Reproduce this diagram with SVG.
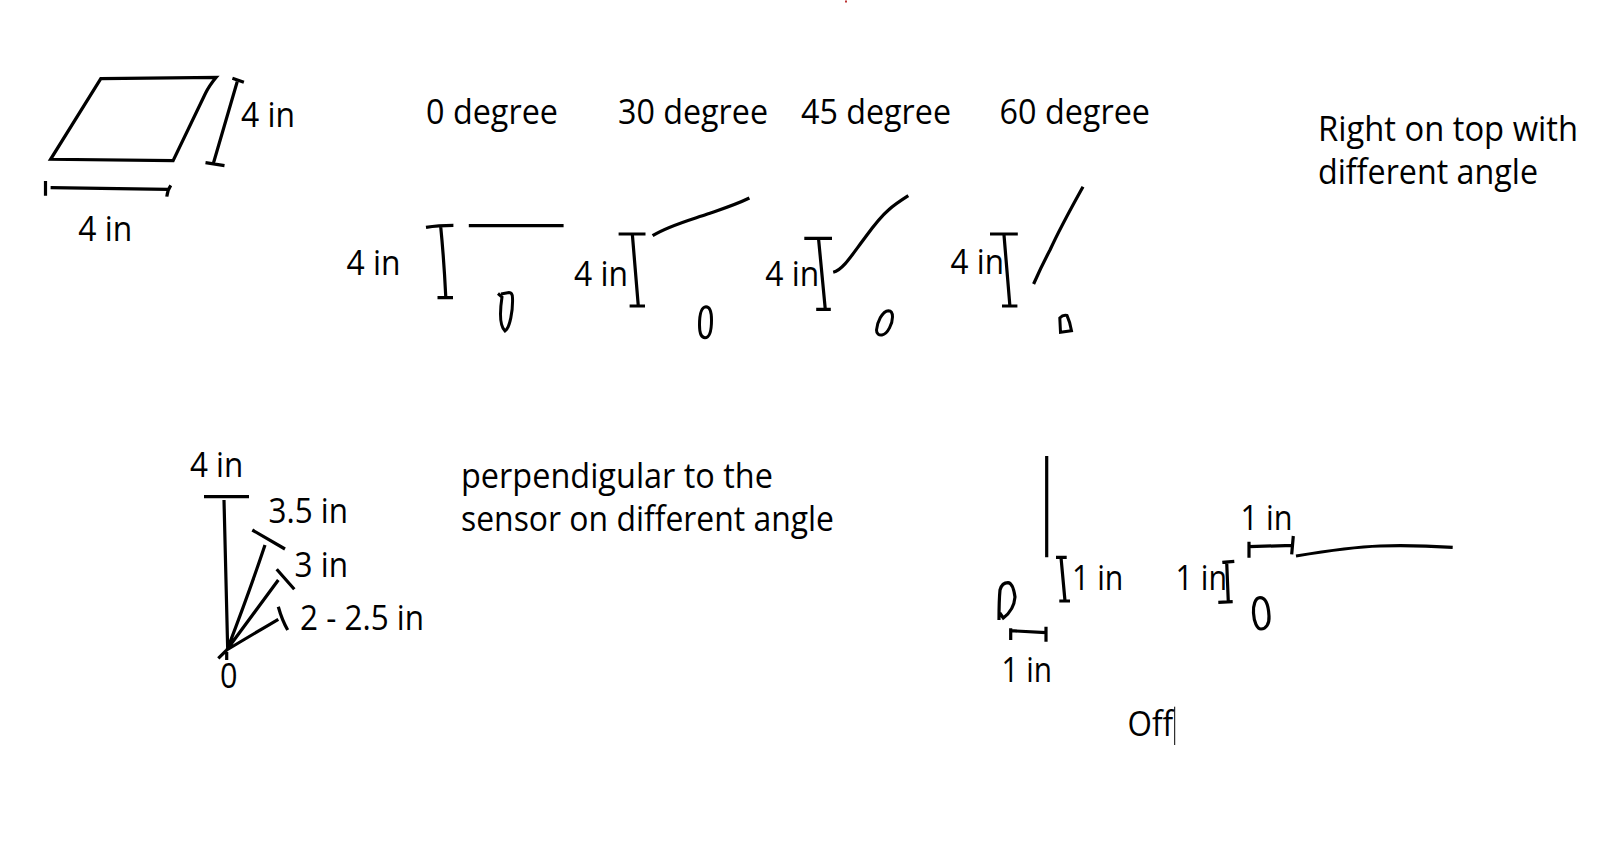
<svg xmlns="http://www.w3.org/2000/svg" width="1618" height="841" viewBox="0 0 1618 841">
<style>
text{font-family:"Open Sans","Noto Sans","Liberation Sans",sans-serif;font-size:34px;fill:#000}
.s{fill:none;stroke:#000;stroke-width:3.2;stroke-linecap:butt;stroke-linejoin:miter}
.t{fill:none;stroke:#000;stroke-width:3}
</style>
<rect width="1618" height="841" fill="#fff"/>
<rect id="speck" x="845" y="0.500" width="2" height="2" fill="#b33"/>
<g id="plate">
<path class="s" d="M100.800,78.700 L216.200,77.300 Q209,86 205.500,93.300 L173.100,160.700 L50.600,159.300 Z"/>
<path class="s" d="M232.400,78.300 L243.900,82.300 M237.200,81.700 L213.400,163.300 M205.500,162.700 L224.500,165.700"/>
<path class="s" d="M45.500,181 V195.700 M50.600,187.700 L168,189.300 M170.800,185.300 Q167.500,190 166.800,196.700"/>
<text x="241" y="126.500" textLength="54" lengthAdjust="spacingAndGlyphs">4 in</text>
<text x="78.300" y="241" textLength="54" lengthAdjust="spacingAndGlyphs">4 in</text>
</g>
<g id="angle-0">
<text x="426" y="123.500" textLength="132" lengthAdjust="spacingAndGlyphs">0 degree</text>
<text x="346.600" y="274.500" textLength="54" lengthAdjust="spacingAndGlyphs">4 in</text>
<path class="s" d="M426,227.300 Q438,225.300 453.400,225.300 M440.700,226.700 Q444,260 445.800,297.300 M437.500,297.700 H453"/>
<path class="s" d="M468.800,225.700 H563.600"/>
<path class="t" d="M498,293.500 L502,297 C500,310 499,325 505,331 C510,328 513,310 512.500,298 C512.500,294 511,292.500 509,292.500 L501,294"/>
</g>
<g id="angle-30">
<text x="618" y="123.500" textLength="150" lengthAdjust="spacingAndGlyphs">30 degree</text>
<text x="574" y="285.500" textLength="54" lengthAdjust="spacingAndGlyphs">4 in</text>
<path class="s" d="M618.600,234 H645.500 M632.400,235 L638.300,306 M629.600,306 H645"/>
<path class="s" d="M652.600,235.700 C668,226 690,220 706.700,214.300 C722,209 735,205 749.400,198"/>
<path class="t" d="M706,306.700 C701,307 699.500,315 699.500,325 C699.500,333 701,337.700 705,337.700 C710,337.700 711.500,330 711.500,320 C711.500,312 710,306.700 706,306.700 Z"/>
</g>
<g id="angle-45">
<text x="801" y="123.500" textLength="150" lengthAdjust="spacingAndGlyphs">45 degree</text>
<text x="765.200" y="285.500" textLength="54" lengthAdjust="spacingAndGlyphs">4 in</text>
<path class="s" d="M833.200,272.300 C842,270 850,258 861,243 C870,231 878,219 888.500,210 C894,205 900,201 908.300,195.700"/>
<path class="s" d="M804.300,238.300 H832 M818.600,239.300 L825.300,309.300 M816.200,309.300 H830.800"/>
<path class="t" d="M888.500,310.700 C882,311 877,323 876.500,330 C876.500,334 879,335.500 882,335 C888,334 892.500,323 892.500,317 C892.500,313 891,310.700 888.500,310.700 Z"/>
</g>
<g id="angle-60">
<text x="999.500" y="123.500" textLength="150.500" lengthAdjust="spacingAndGlyphs">60 degree</text>
<text x="950.600" y="274" textLength="53.400" lengthAdjust="spacingAndGlyphs">4 in</text>
<path class="s" d="M990,234 H1017.800 M1004,235 L1009.900,306 M1002,306 H1017.400"/>
<path class="s" d="M1083,186.700 Q1060,228 1050,250 Q1042,265 1033.600,284"/>
<path class="t" d="M1059.800,318 Q1063,314.500 1067,315.500 Q1070,322 1071.500,330.700 L1060.500,332.300 Z"/>
</g>
<g id="note-top">
<text x="1318" y="140.500" textLength="260" lengthAdjust="spacingAndGlyphs">Right on top with</text>
<text x="1318" y="183.500" textLength="220" lengthAdjust="spacingAndGlyphs">different angle</text>
</g>
<g id="fan">
<text x="190" y="477" textLength="53.300" lengthAdjust="spacingAndGlyphs">4 in</text>
<text x="268.500" y="523" textLength="79.500" lengthAdjust="spacingAndGlyphs">3.5 in</text>
<text x="294.500" y="577" textLength="53.500" lengthAdjust="spacingAndGlyphs">3 in</text>
<text x="300" y="630" textLength="124" lengthAdjust="spacingAndGlyphs">2 - 2.5 in</text>
<text x="220" y="688" textLength="17.500" lengthAdjust="spacingAndGlyphs" style="font-size:35px">0</text>
<path class="s" d="M204,496.700 H249 M224,500 L227.700,650 M252.300,530 L285,549 M265,545 Q250,590 227.700,648.300 M276.700,569.300 L294.300,589.300 M278.300,580 L226.700,650 M278.300,606.700 Q282,620 287.700,630 M278.300,619.300 Q250,636 226.700,650 L218.300,658.300 M226.700,652 V660"/>
</g>
<g id="note-fan">
<text x="461" y="488" textLength="312" lengthAdjust="spacingAndGlyphs">perpendigular to the</text>
<text x="461" y="531" textLength="373" lengthAdjust="spacingAndGlyphs">sensor on different angle</text>
</g>
<g id="off-left">
<path class="s" d="M1046.700,456 V557.300 M1056,557.300 H1066.700 M1061,557.300 L1065,601 M1059.300,601 H1070"/>
<text x="1072" y="590" textLength="51.300" lengthAdjust="spacingAndGlyphs">1 in</text>
<path class="s" d="M999,620 Q999,600 1000,590 Q1002,582.700 1008,582.700 Q1013,583 1015,597 Q1014,610 1003.300,618 L999.800,613"/>
<path class="s" d="M1010.700,628.300 V640 M1010.700,630.700 L1046,632.700 M1046,626.700 V641.700"/>
<text x="1001.500" y="681.500" textLength="50.500" lengthAdjust="spacingAndGlyphs">1 in</text>
</g>
<g id="off-right">
<text x="1175.500" y="590" textLength="51.500" lengthAdjust="spacingAndGlyphs">1 in</text>
<path class="s" d="M1222.300,562.300 L1234.300,561.300 M1226.700,562.300 L1228.300,601.700 M1218.300,602.300 L1232.700,601.700"/>
<text x="1240.500" y="530" textLength="52" lengthAdjust="spacingAndGlyphs">1 in</text>
<path class="s" d="M1249,541.700 V557.700 M1249,546.700 L1293.300,545.300 M1293.300,536 L1291.700,554.300"/>
<path class="s" d="M1296,556 C1320,552 1350,547 1380,546 C1405,545.300 1430,546 1452.700,547.300"/>
<path class="s" d="M1260,597.700 C1255,597.700 1253,606 1253.500,613 C1254,622 1257,629 1261,629 C1266,629 1269.500,624 1269,616 C1268.500,607 1266,597.700 1260,597.700 Z"/>
</g>
<g id="off-label">
<text x="1127.500" y="735.500" textLength="45.500" lengthAdjust="spacingAndGlyphs">Off</text>
<path d="M1174.700,706.700 V745" stroke="#000" stroke-width="1" fill="none"/>
</g>
</svg>
